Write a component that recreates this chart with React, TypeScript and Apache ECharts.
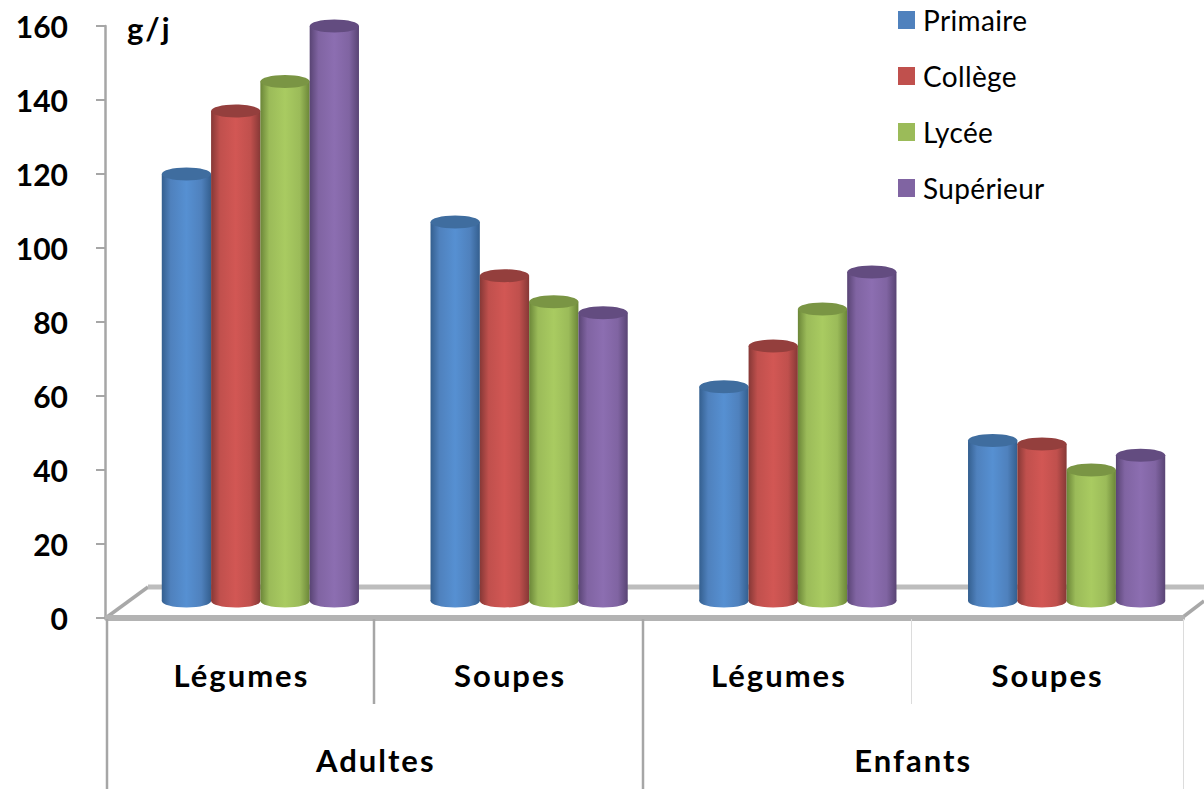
import React, { useEffect, useRef } from "react";
import * as echarts from "echarts";

// Daily intake in g/j by education level, for adults and children.
const foods = ["Légumes", "Soupes", "Légumes", "Soupes"];
const populations = ["Adultes", "Enfants"];
const levels = ["Primaire", "Collège", "Lycée", "Supérieur"];
const primaire = [120, 107, 62.5, 48];
const college = [137, 92.5, 73.5, 47];
const lycee = [145, 85.5, 83.5, 40];
const superieur = [160, 82.5, 93.5, 44];
const yTicks = [0, 20, 40, 60, 80, 100, 120, 140, 160];

const seriesValues = [primaire, college, lycee, superieur];
// flat colour, dark edge and light centre of each cylinder
const palette = [
  { base: "#4f81bd", edge: "#345f8f", light: "#5690d2", cap: "#3f6d9f" },
  { base: "#c0504d", edge: "#863836", light: "#d25754", cap: "#943f3d" },
  { base: "#9bbb59", edge: "#6b8638", light: "#a9cb61", cap: "#7a9544" },
  { base: "#8064a2", edge: "#594474", light: "#8c6eb1", cap: "#634c80" },
];

const FONT = "Lato";
const AXIS_GREY = "#a6a6a6";
const BAR_WIDTH = 49.3;
const CAP_RY = 6.5;
const DEPTH_X = 19;
const BASE_RISE = 17;

function cylinder(seriesIdx: number) {
  const c = palette[seriesIdx];
  return (_params: any, api: any) => {
    const top = api.coord([api.value(0), api.value(1)]);
    const floor = api.coord([api.value(0), 0]);
    const cx = top[0] + DEPTH_X + (seriesIdx - 1.5) * BAR_WIDTH;
    const rx = BAR_WIDTH / 2;
    const baseY = floor[1] - BASE_RISE;
    const body = new echarts.graphic.LinearGradient(0, 0, 1, 0, [
      { offset: 0, color: c.edge },
      { offset: 0.18, color: c.base },
      { offset: 0.5, color: c.light },
      { offset: 0.8, color: c.base },
      { offset: 1, color: c.edge },
    ]);
    return {
      type: "group",
      children: [
        { type: "ellipse", shape: { cx, cy: baseY, rx, ry: CAP_RY }, style: { fill: body } },
        { type: "rect", shape: { x: cx - rx, y: top[1], width: BAR_WIDTH, height: baseY - top[1] }, style: { fill: body } },
        { type: "ellipse", shape: { cx, cy: top[1], rx, ry: CAP_RY }, style: { fill: c.cap } },
      ],
    };
  };
}

function separator(x: number, y2: number, color: string, lineWidth: number) {
  return {
    type: "line",
    z: 1,
    shape: { x1: x, y1: 619, x2: x, y2 },
    style: { stroke: color, lineWidth },
  };
}

function floorEdge(x1: number, y1: number, x2: number, y2: number, lineWidth: number, stroke: string) {
  return {
    type: "line",
    z: 0,
    shape: { x1, y1, x2, y2 },
    style: { stroke, lineWidth },
  };
}

// Bold axis captions and the legend are set with a little extra tracking.
const tracking = `
  .intake-chart text[style*="31px"] { letter-spacing: 2px; }
  .intake-chart text[style*="28px"] { letter-spacing: 0.35px; }
`;

export default function App() {
  const ref = useRef<HTMLDivElement>(null);

  useEffect(() => {
    const chart = echarts.init(ref.current!, undefined, { renderer: "svg" });
    chart.setOption({
      animation: false,
      backgroundColor: "#ffffff",
      grid: { left: 107, top: 26, width: 1075, height: 592, containLabel: false },
      legend: {
        orient: "vertical",
        left: 898,
        top: 6,
        padding: 0,
        itemWidth: 17,
        itemHeight: 18,
        itemGap: 28,
        icon: "rect",
        selectedMode: false,
        data: levels,
        textStyle: { fontFamily: FONT, fontSize: 28, color: "#000000", padding: [0, 0, 0, 3] },
      },
      xAxis: [
        {
          type: "category",
          data: foods,
          position: "bottom",
          axisLine: { show: true, lineStyle: { color: "#b3b3b3", width: 6 } },
          axisTick: { show: false },
          axisLabel: { fontFamily: FONT, fontWeight: "bold", fontSize: 31, color: "#000000", margin: 41 },
          splitLine: { show: false },
        },
        {
          type: "category",
          data: populations,
          position: "bottom",
          axisLine: { show: false },
          axisTick: { show: false },
          axisLabel: { fontFamily: FONT, fontWeight: "bold", fontSize: 31, color: "#000000", margin: 126 },
          splitLine: { show: false },
        },
      ],
      yAxis: {
        type: "value",
        min: yTicks[0],
        max: yTicks[yTicks.length - 1],
        interval: yTicks[1] - yTicks[0],
        offset: 2,
        axisLine: { show: true, lineStyle: { color: AXIS_GREY, width: 2.5 } },
        axisTick: { show: true, length: 9, lineStyle: { color: AXIS_GREY, width: 2 } },
        axisLabel: { fontFamily: FONT, fontWeight: "bold", fontSize: 30, color: "#000000", margin: 37 },
        splitLine: { show: false },
      },
      series: levels.map((name, s) => ({
        type: "custom",
        name,
        z: 5,
        clip: false,
        xAxisIndex: 0,
        itemStyle: { color: palette[s].base },
        encode: { x: 0, y: 1 },
        data: seriesValues[s].map((v, i) => [i, v]),
        renderItem: cylinder(s),
      })),
      graphic: {
        elements: [
          floorEdge(107, 617, 148, 587, 3.5, "#a8a8a8"),
          floorEdge(148, 587, 1204, 587, 5, "#bdbdbd"),
          floorEdge(1183, 617, 1204, 601, 3.5, "#a8a8a8"),
          separator(107, 789, AXIS_GREY, 2.5),
          separator(374, 704, AXIS_GREY, 2.5),
          separator(643, 789, AXIS_GREY, 2.5),
          separator(911.5, 704, "#dcdcdc", 1),
          separator(1183.5, 789, "#dcdcdc", 1),
          {
            type: "text",
            z: 6,
            x: 127,
            y: 12,
            style: { text: "g/j", fontFamily: FONT, fontWeight: "bold", fontSize: 31, fill: "#000000" },
          },
        ],
      },
    });
    return () => chart.dispose();
  }, []);

  return (
    <>
      <style>{tracking}</style>
      <div ref={ref} className="intake-chart" style={{ position: "fixed", left: 0, top: 0, width: 1204, height: 789 }} />
    </>
  );
}
